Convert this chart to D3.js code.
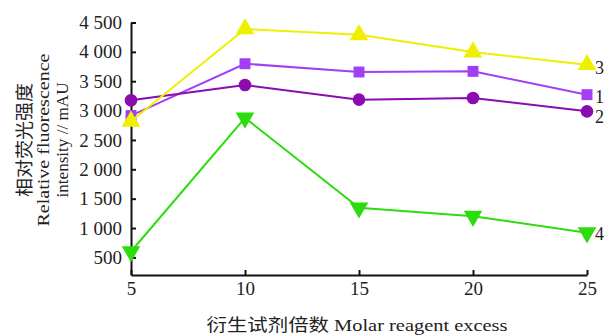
<!DOCTYPE html>
<html>
<head>
<meta charset="utf-8">
<script src="https://cdn.jsdelivr.net/npm/d3@7"></script>
<style>
  html, body { margin: 0; padding: 0; background: #fff; }
  svg { display: block; }
  .axis text { font-family: "Liberation Serif", "Times New Roman", serif; font-size: 19px; fill: #222; }
  .axis path, .axis line { stroke: #111; stroke-width: 2; }
  .ttl { font-family: "Liberation Serif", "Noto Sans CJK SC", serif; fill: #222; }
</style>
</head>
<body>
<svg id="chart" width="610" height="335"></svg>
<script>
// Molar reagent excess (x) and relative fluorescence intensity (mAU) per series
const excess = [5, 10, 15, 20, 25];
const series1 = [2915, 3798, 3657, 3668, 3271];   // squares
const series2 = [3175, 3436, 3186, 3215, 2987];   // circles
const series3 = [2818, 4390, 4291, 3997, 3781];   // triangles up
const series4 = [600, 2875, 1345, 1202, 920];     // triangles down
const yTicks = [500, 1000, 1500, 2000, 2500, 3000, 3500, 4000, 4500];

// Styling per series; labelShift nudges the end label vertically (px)
const seriesDefs = [
  { name: "1", values: series1, color: "#a23ff4", symbol: d3.symbolSquare, size: 120, rot: 0, labelShift: 1 },
  { name: "2", values: series2, color: "#8a0bb0", symbol: d3.symbolCircle, size: 125, rot: 0, labelShift: 5 },
  { name: "3", values: series3, color: "#eef000", symbol: d3.symbolTriangle, size: 150, rot: 0, labelShift: 2 },
  { name: "4", values: series4, color: "#2ddc0e", symbol: d3.symbolTriangle, size: 150, rot: 180, labelShift: 0 }
];

const svg = d3.select("#chart");
const x = d3.scaleLinear().domain([5, 25]).range([131, 587]);
const y = d3.scaleLinear().domain([200, 4500]).range([275, 22.5]);

const fmt = d3.formatLocale({ decimal: ".", thousands: " ", grouping: [3], currency: ["", ""] }).format(",");

// Axes with inward ticks
svg.append("g").attr("class", "axis")
  .attr("transform", "translate(0,275)")
  .call(d3.axisBottom(x).tickValues(excess).tickSizeInner(-5).tickSizeOuter(0).tickPadding(7));

svg.append("g").attr("class", "axis")
  .attr("transform", "translate(131,0)")
  .call(d3.axisLeft(y).tickValues(yTicks).tickFormat(fmt).tickSizeInner(-5).tickSizeOuter(0).tickPadding(9));

// Series lines and markers
const line = d3.line().x((d, i) => x(excess[i])).y(d => y(d));
seriesDefs.forEach(s => {
  svg.append("path")
    .attr("d", line(s.values))
    .attr("fill", "none")
    .attr("stroke", s.color)
    .attr("stroke-width", 2);
  const sym = d3.symbol().type(s.symbol).size(s.size);
  svg.append("g").selectAll("path").data(s.values).join("path")
    .attr("d", sym)
    .attr("fill", s.color)
    .attr("transform", (d, i) => `translate(${x(excess[i])},${y(d)}) rotate(${s.rot})`);
  svg.append("text")
    .attr("class", "ttl")
    .attr("x", x(25) + 8)
    .attr("y", y(s.values[s.values.length - 1]) + s.labelShift)
    .attr("dy", "0.38em")
    .attr("font-size", 18)
    .text(s.name);
});

// Axis titles
svg.append("text").attr("class", "ttl")
  .attr("x", 357).attr("y", 331)
  .attr("text-anchor", "middle")
  .attr("font-size", 17)
  .attr("textLength", 301).attr("lengthAdjust", "spacingAndGlyphs")
  .text("衍生试剂倍数 Molar reagent excess");

const yTitle = [
  { text: "相对荧光强度", x: 25, len: 114, size: 18 },
  { text: "Relative fluorescence", x: 43, len: 173, size: 17 },
  { text: "intensity // mAU", x: 62, len: 115, size: 17 }
];
yTitle.forEach(t => {
  svg.append("text").attr("class", "ttl")
    .attr("transform", `translate(${t.x + 6},140) rotate(-90)`)
    .attr("text-anchor", "middle")
    .attr("font-size", t.size)
    .attr("textLength", t.len).attr("lengthAdjust", "spacingAndGlyphs")
    .text(t.text);
});
</script>
</body>
</html>
